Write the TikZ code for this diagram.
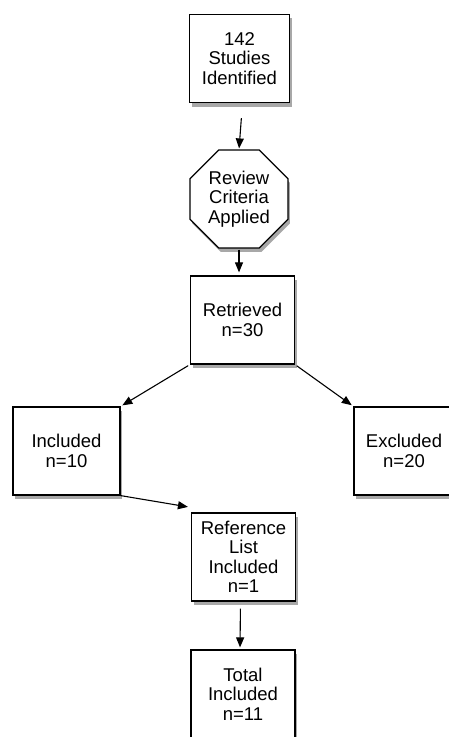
\documentclass[tikz,border=0pt]{standalone}
\usepackage{fontspec}
\setmainfont{Liberation Sans}
\usetikzlibrary{arrows.meta,shapes.geometric,shadows}
\definecolor{flowShadow}{RGB}{110,110,110}

\begin{document}
\begin{tikzpicture}[x=1bp,y=-1bp,
    studyBox/.style={draw=black,line width=1.2bp,fill=white,align=center,inner sep=0pt,
      minimum width=104bp,minimum height=88bp,font=\fontsize{18.5bp}{19.5bp}\selectfont,
      drop shadow={shadow xshift=2bp,shadow yshift=-4bp,fill=flowShadow,opacity=0.6}},
    criteriaOct/.style={studyBox,regular polygon,regular polygon sides=8,minimum size=106bp},
    flowArrow/.style={-{Triangle[length=10bp,width=8bp]},line width=1.1bp}]
  \useasboundingbox (0,0) rectangle (449,737);
  \node[studyBox,minimum width=100bp] (studies) at (239.5,58.5) {142\\Studies\\Identified};
  \node[criteriaOct] (review) at (239,199) {Review\\Criteria\\Applied};
  \node[studyBox] (retrieved) at (242.5,320) {Retrieved\\n=30};
  \node[studyBox,minimum width=107bp] (included) at (66.5,451) {Included\\n=10};
  \node[studyBox,minimum width=100bp] (excluded) at (404,451) {Excluded\\n=20};
  \node[studyBox] (reflist) at (243.5,557) {Reference\\List\\Included\\n=1};
  \node[studyBox] (total) at (243,694) {Total\\Included\\n=11};
  \draw[flowArrow,shorten <=15bp,shorten >=1bp] ([xshift=3bp]studies.south) -- (review.north);
  \draw[flowArrow,shorten <=1bp,shorten >=3bp] (review.south) -- (review.south |- retrieved.north);
  \draw[flowArrow,shorten <=2bp,shorten >=2bp] (retrieved.south west) -- (included.north east);
  \draw[flowArrow,shorten <=2bp,shorten >=2bp] (retrieved.south east) -- (excluded.north west);
  \draw[flowArrow,shorten >=3bp] (included.south east) -- ([yshift=5bp]reflist.north west);
  \draw[flowArrow,shorten <=7bp,shorten >=2bp] ([xshift=-3bp]reflist.south) -- ([xshift=-3bp]total.north);
\end{tikzpicture}
\end{document}
